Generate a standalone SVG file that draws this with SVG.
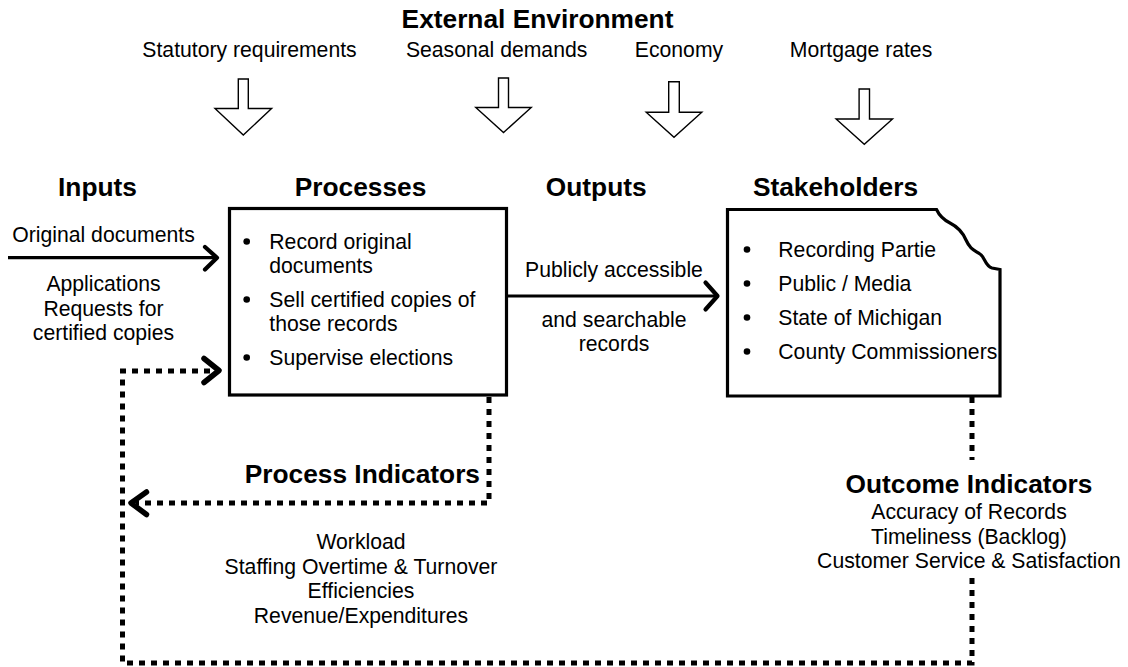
<svg xmlns="http://www.w3.org/2000/svg" width="1128" height="667" viewBox="0 0 1128 667">
  <defs>
    <style>
      .t { font-family: "Liberation Sans", Arial, Helvetica, sans-serif; font-size: 21.2px; fill: #000; }
      .b { font-weight: bold; font-size: 26.3px; }
      .m { text-anchor: middle; }
      .e { text-anchor: end; }
      .block { fill: #fff; stroke: #000; stroke-width: 1.4; stroke-linejoin: miter; }
      .box { fill: #fff; stroke: #000; stroke-width: 3.2; }
      .solid { fill: none; stroke: #000; stroke-width: 3.2; }
      .dot { fill: none; stroke: #000; stroke-width: 5; stroke-dasharray: 6 6; }
      .chev { fill: none; stroke: #000; stroke-width: 4.2; stroke-linecap: round; stroke-linejoin: round; }
      .chevd { fill: none; stroke: #000; stroke-width: 5.5; stroke-linecap: round; stroke-linejoin: round; }
    </style>
  </defs>
  <rect width="1128" height="667" fill="#fff"/>

  <!-- external environment and its four drivers -->
  <g id="external-environment">
    <text class="t b m" x="537.5" y="28">External Environment</text>
    <text class="t m" x="249.5" y="57">Statutory requirements</text>
    <text class="t m" x="496.6" y="57">Seasonal demands</text>
    <text class="t m" x="679" y="57">Economy</text>
    <text class="t m" x="861" y="57">Mortgage rates</text>
    <polygon class="block" points="238.3,79 248.3,79 248.3,108.5 271.6,108.5 243.3,135 215,108.5 238.3,108.5"/>
    <polygon class="block" points="498.5,78 508.5,78 508.5,107.5 531.2,107.5 503.5,132.5 475.8,107.5 498.5,107.5"/>
    <polygon class="block" points="668.7,81.7 679.3,81.7 679.3,112.3 701.8,112.3 674,137.3 646.2,112.3 668.7,112.3"/>
    <polygon class="block" points="859.1,89 869.5,89 869.5,119 892.5,119 864.3,144.3 836.1,119 859.1,119"/>
  </g>

  <!-- inputs -->
  <g id="inputs">
    <text class="t b m" x="97.5" y="196">Inputs</text>
    <text class="t m" x="103.5" y="242">Original documents</text>
    <text class="t m" x="103.5" y="291">Applications</text>
    <text class="t m" x="103.5" y="315.5">Requests for</text>
    <text class="t m" x="103.5" y="339.5">certified copies</text>
  </g>

  <!-- processes -->
  <g id="processes">
    <text class="t b m" x="360.5" y="196">Processes</text>
    <rect class="box" x="229.5" y="208.5" width="277" height="186.5"/>
    <circle cx="246.7" cy="241.5" r="3.3"/>
    <text class="t" x="269.3" y="249">Record original</text>
    <text class="t" x="269.3" y="273">documents</text>
    <circle cx="246.7" cy="299.5" r="3.3"/>
    <text class="t" x="269.3" y="307">Sell certified copies of</text>
    <text class="t" x="269.3" y="331">those records</text>
    <circle cx="246.7" cy="357.5" r="3.3"/>
    <text class="t" x="269.3" y="365">Supervise elections</text>
  </g>

  <!-- outputs -->
  <g id="outputs">
    <text class="t b m" x="596.2" y="196">Outputs</text>
    <text class="t m" x="614" y="276.5">Publicly accessible</text>
    <text class="t m" x="614" y="326.5">and searchable</text>
    <text class="t m" x="614" y="350.5">records</text>
  </g>

  <!-- stakeholders: box with a torn top-right corner -->
  <g id="stakeholders">
    <text class="t b m" x="835.5" y="196">Stakeholders</text>
    <path class="box" d="M727.5,209.5 L936.5,209.5 C940,217 944,220 950,223 C958,227 963,233 966,240 C970,249 974,250 980,254 C985,257 985,266 992,268 L1000,269.5 L1000,396 L727.5,396 Z"/>
    <circle cx="747" cy="249.5" r="3.3"/>
    <text class="t" x="778.3" y="257">Recording Partie</text>
    <circle cx="747" cy="283.5" r="3.3"/>
    <text class="t" x="778.3" y="291">Public / Media</text>
    <circle cx="747" cy="317.5" r="3.3"/>
    <text class="t" x="778.3" y="325">State of Michigan</text>
    <circle cx="747" cy="351.5" r="3.3"/>
    <text class="t" x="778.3" y="359">County Commissioners</text>
  </g>

  <!-- process indicators -->
  <g id="process-indicators">
    <text class="t b e" x="480" y="483">Process Indicators</text>
    <text class="t m" x="361" y="549">Workload</text>
    <text class="t m" x="361" y="573.5">Staffing Overtime &amp; Turnover</text>
    <text class="t m" x="361" y="598">Efficiencies</text>
    <text class="t m" x="361" y="622.5">Revenue/Expenditures</text>
  </g>

  <!-- outcome indicators -->
  <g id="outcome-indicators">
    <text class="t b m" x="969" y="493">Outcome Indicators</text>
    <text class="t m" x="969" y="519">Accuracy of Records</text>
    <text class="t m" x="969" y="543.5">Timeliness (Backlog)</text>
    <text class="t m" x="969" y="568">Customer Service &amp; Satisfaction</text>
  </g>

  <!-- connectors -->
  <g id="connectors">
    <!-- inputs into processes -->
    <line class="solid" x1="8" y1="257.7" x2="215" y2="257.7"/>
    <polyline class="chev" points="205,247 217,257.7 205,269.5"/>
    <!-- processes to stakeholders -->
    <line class="solid" x1="507" y1="296" x2="716" y2="296"/>
    <polyline class="chev" points="705.5,282.5 717.5,296 705.5,309.5"/>
    <!-- process indicator feedback -->
    <path class="dot" d="M489,397 L489,503 L136,503"/>
    <polyline class="chevd" points="146.5,492 131,503 146.5,514.5"/>
    <!-- outcome indicator feedback loop -->
    <path class="dot" d="M972,397 L972,460"/>
    <path class="dot" d="M972,578 L972,663 L122.5,663 L122.5,371 L214,371"/>
    <polyline class="chevd" points="204,358.5 219,370.5 204,382.5"/>
  </g>
</svg>
